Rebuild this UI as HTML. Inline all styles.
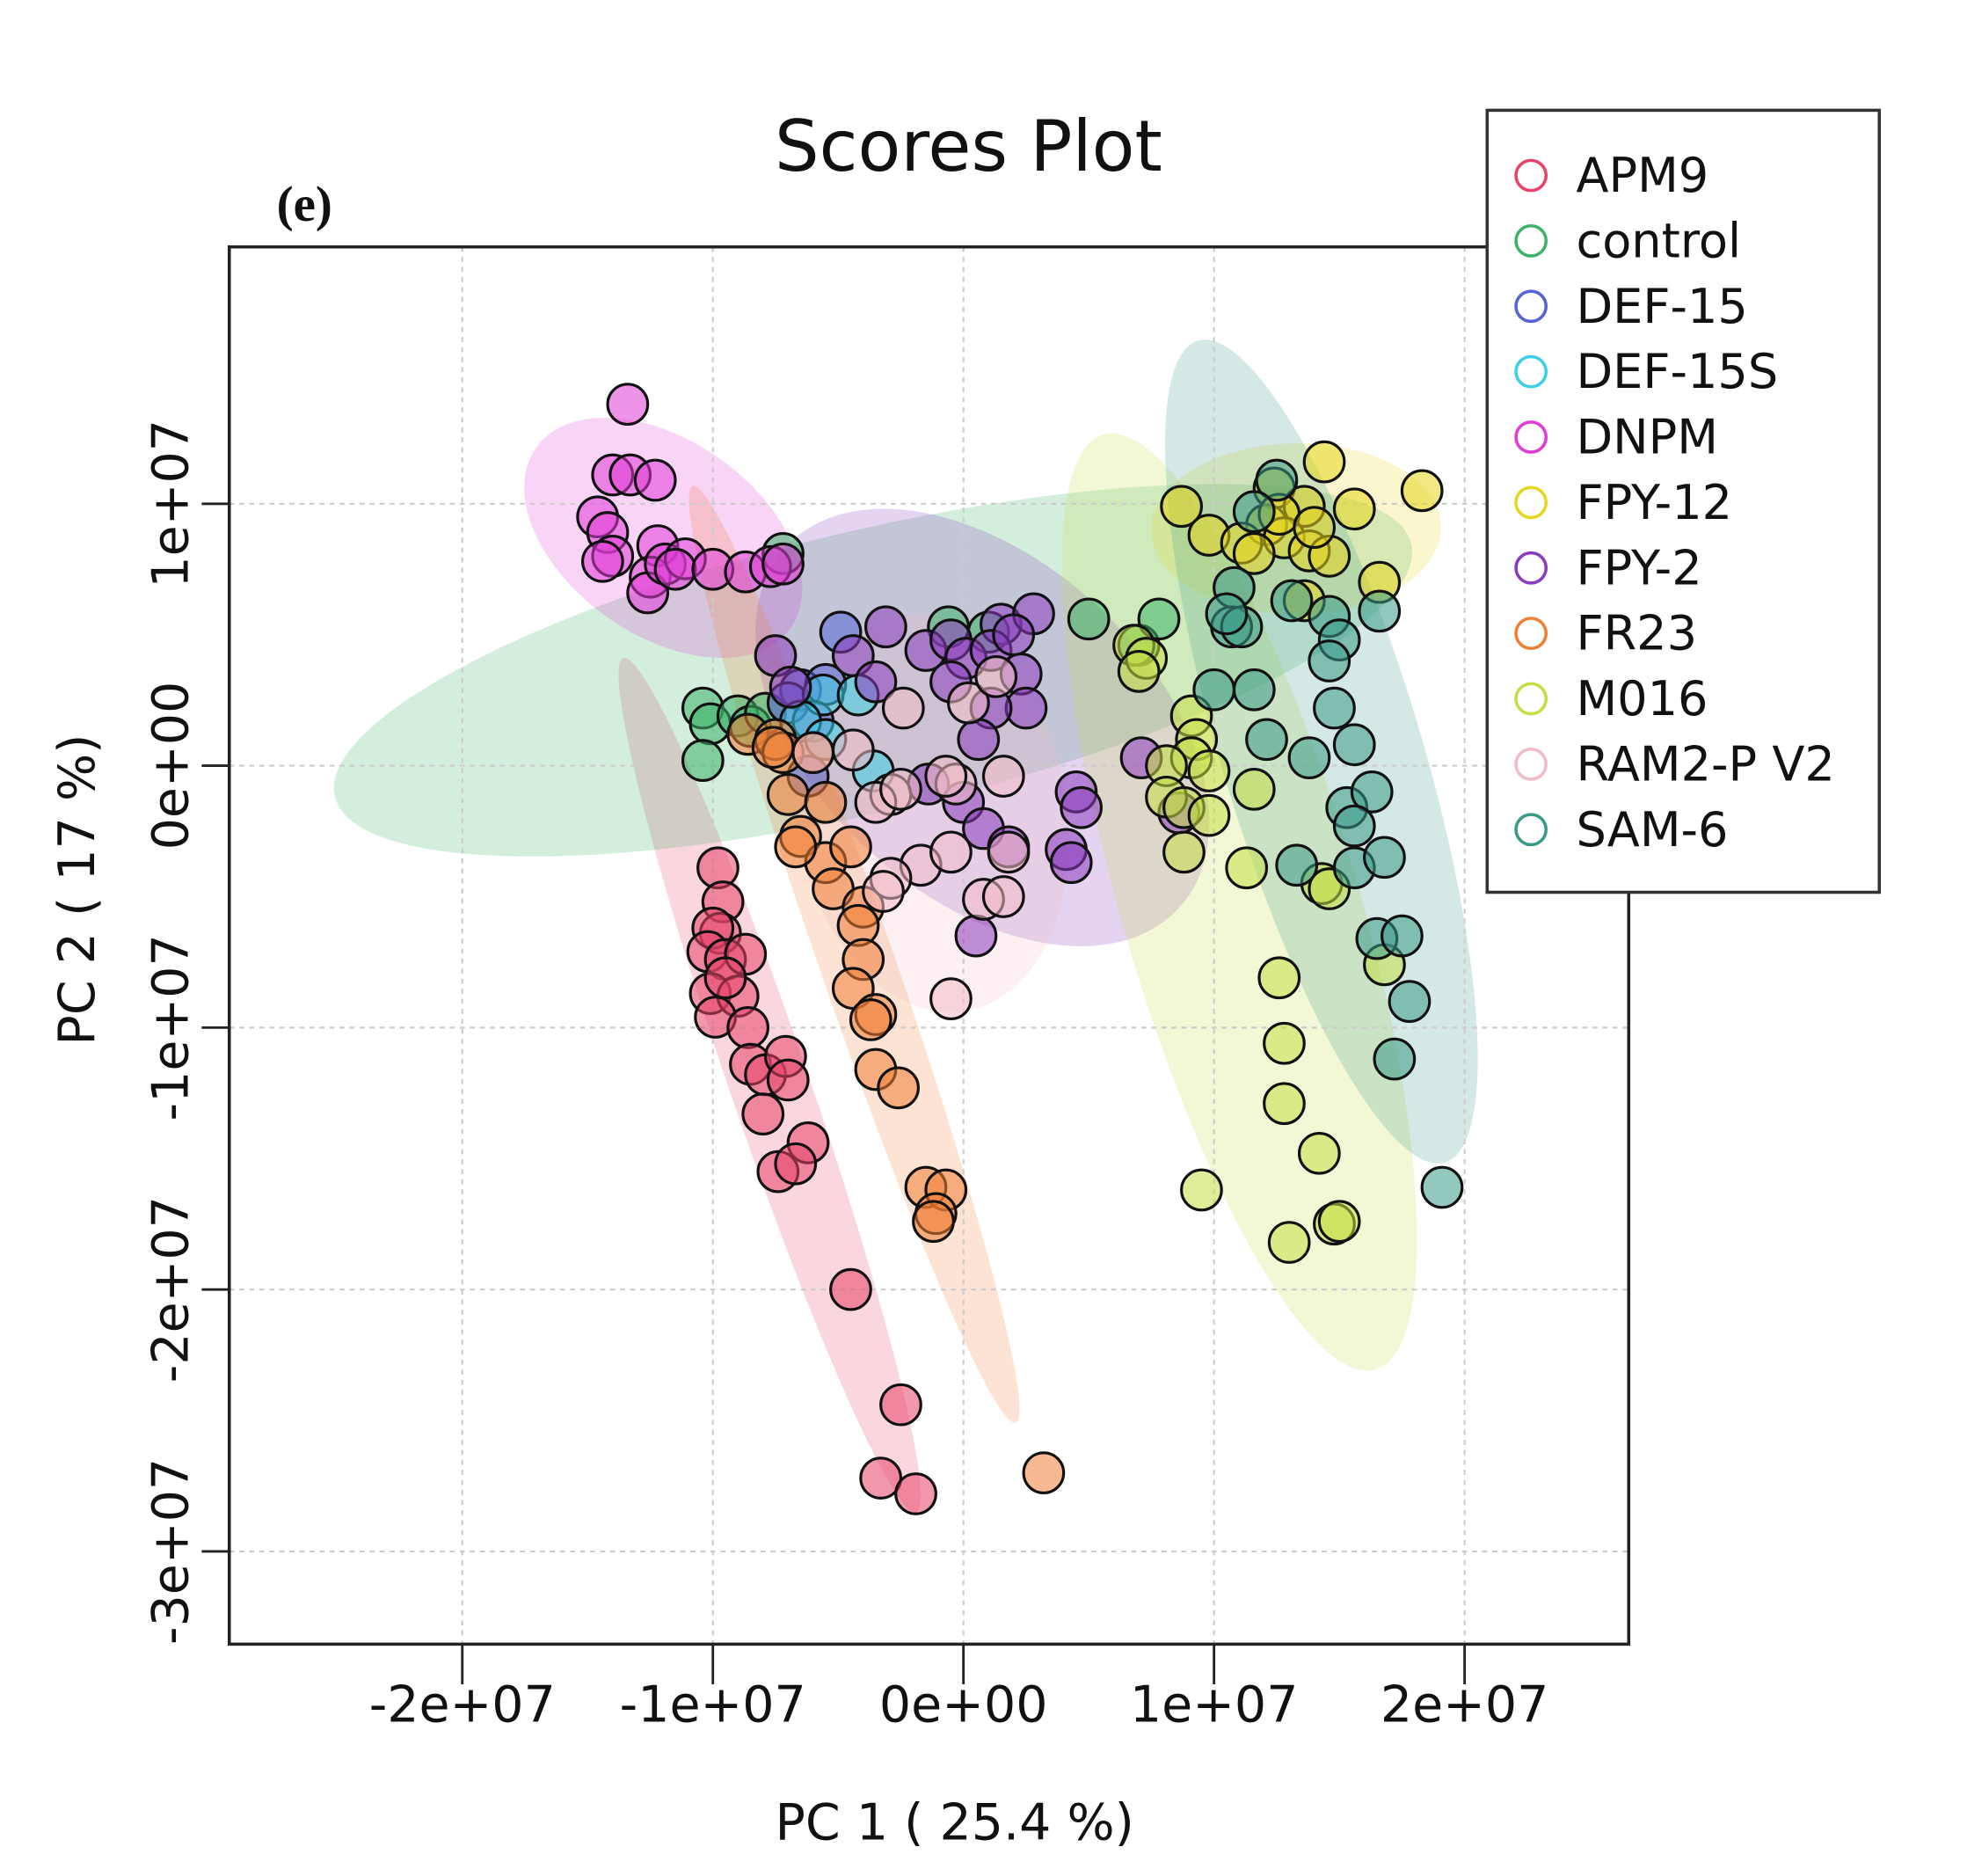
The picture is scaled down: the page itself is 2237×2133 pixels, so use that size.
<!DOCTYPE html>
<html><head><meta charset="utf-8"><style>html,body{margin:0;padding:0;background:#fff}svg{display:block}</style></head>
<body>
<svg id="chart" width="2237" height="2133" viewBox="0 0 1570 1497" xmlns="http://www.w3.org/2000/svg" font-family="'DejaVu Sans','Liberation Sans',sans-serif">
<rect width="1570" height="1497" fill="#fff"/>
<g id="ellipses"></g>
<g id="grid"></g>
<g id="points"></g>
<g id="axes"></g>
</svg>
<script>
const groupNames = ["APM9","control","DEF-15","DEF-15S","DNPM","FPY-12","FPY-2","FR23","M016","RAM2-P V2","SAM-6"];
const groupColors = ["#E8436A","#3CB36A","#5464D6","#3CCFE6","#E03CD6","#E6D61E","#8A3CBE","#F07F36","#C4DE46","#F2BCC6","#3A9A88"];
const xTicks = [-20,-10,0,10,20];
const yTicks = [10,0,-10,-20,-30];
const xTickLabels = ["-2e+07","-1e+07","0e+00","1e+07","2e+07"];
const yTickLabels = ["1e+07","0e+00","-1e+07","-2e+07","-3e+07"];
// values in units of 1e6
const apm9X = [-9.8,-9.6,-9.7,-10,-10.2,-9.5,-8.7,-10.1,-9,-9.9,-8.6,-8.5,-7.9,-7.1,-7,-8,-6.2,-7.4,-6.7,-4.5,-2.5,-3.3,-1.9,-9.5];
const apm9Y = [-3.9,-5.2,-6.4,-6.2,-7.1,-7.4,-7.2,-8.7,-8.8,-9.6,-10,-11.4,-11.8,-11.1,-12,-13.3,-14.4,-15.5,-15.2,-20,-24.4,-27.2,-27.8,-8.1];
const controlX = [-10.4,-10.1,-9,-10.4,-7.2,-0.6,1,5,7,7.8,-8.5,-7.9];
const controlY = [2.2,1.6,1.9,0.2,8.1,5.3,5.1,5.6,4.6,5.6,1.5,2];
const def15X = [-4.9,-6.5,-5.5,-7,-6,-6.2];
const def15Y = [5.1,2.9,3.1,2.4,1.7,-0.4];
const def15sX = [-5.6,-6.5,-5.5,-3.6,-4.2];
const def15sY = [2.7,1.7,1,-0.2,2.7];
const dnpmX = [-13.4,-14,-13.3,-12.3,-14.6,-14.2,-14,-14.4,-12.2,-12.5,-12.6,-11.9,-11.1,-11.5,-10,-8.7,-7.7,-7.2];
const dnpmY = [13.8,11.1,11.1,10.9,9.5,8.9,8,7.8,8.4,7.2,6.6,7.7,7.9,7.5,7.5,7.4,7.6,7.7];
const fpy12X = [14.4,12.4,13.6,15.6,12.1,12.8,13.8,14.6,18.3,8.7,9.8,11.1,12.6,14,16.6,13.6,11.6];
const fpy12Y = [11.6,10.6,9.9,9.8,9.2,8.7,8.2,8,10.5,9.9,8.8,8.5,9.6,9.1,7,6.3,8.1];
const fpy2X = [-7.5,-6.9,-3.1,-4.4,-1.5,-0.5,1.5,2.8,0.1,1.1,2,2.3,2.5,1.1,-0.5,0.6,-1.4,0,0.8,1.8,4.5,4.7,4.1,4.3,7.1,8.6,0.5,-3.5];
const fpy2Y = [4.2,3,5.3,4.2,4.4,4.8,5.4,5.8,4.1,4.4,5,3.5,2.2,2.2,3.2,1,-0.7,-1.4,-2.4,-3.1,-1,-1.6,-3.2,-3.7,0.3,-1.8,-6.5,3.2];
const fr23X = [-8.6,-7.5,-7.2,-7,-5.5,-6.5,-5.5,-4.5,-6.7,-5.2,-4,-4.2,-4,-4.4,-3.5,-3.7,-3.5,-2.6,-1.5,-0.7,-1.1,-1.2,3.2,-7.6,-6];
const fr23Y = [1.2,1,0.5,-1.1,-1.4,-2.7,-3.7,-3.1,-3.1,-4.7,-5.4,-6.1,-7.4,-8.5,-9.5,-9.7,-11.6,-12.3,-16.1,-16.2,-17.1,-17.4,-27,0.7,0.5];
const m016X = [6.8,7.3,7,9.1,9.3,9.1,9.8,8.1,8.1,8.8,9.8,11.6,11.3,8.8,14.3,14.6,12.6,16.8,12.8,12.8,14.2,9.5,13,14.8,15];
const m016Y = [4.6,4.1,3.6,1.9,1,0.3,-0.2,0,-1.2,-1.6,-1.9,-0.9,-3.9,-3.3,-4.5,-4.7,-8.1,-7.6,-10.6,-12.9,-14.8,-16.2,-18.2,-17.5,-17.4];
const ramX = [-2.4,0.2,1.3,-6,-4.4,-2.9,-3.5,-0.3,-0.7,1.6,-1.7,-0.5,1.8,-2.9,-3.2,0.8,1.6,-0.5,-2.5];
const ramY = [2.2,2.4,3.4,0.5,0.6,-1.1,-1.4,-0.7,-0.4,-0.4,-3.8,-3.3,-3.3,-4.3,-4.8,-5.1,-5,-8.9,-0.9];
const sam6X = [12.5,11.6,10.8,10.7,11.1,13.1,14.6,15,16.6,14.6,10,11.6,14.8,12.1,13.8,15.6,15.3,16.3,15.6,13.3,15.6,16.8,16.5,17.5,17.8,17.2,19.1,10.5];
const sam6Y = [10.9,9.7,6.8,5.3,5.3,6.3,5.7,4.8,5.9,4,2.9,2.9,2.2,1,0.3,0.8,-1.6,-1,-2.3,-3.8,-3.9,-3.5,-6.6,-6.5,-9,-11.2,-16.1,5.8];
const seriesX = [apm9X,controlX,def15X,def15sX,dnpmX,fpy12X,fpy2X,fr23X,m016X,ramX,sam6X];
const seriesY = [apm9Y,controlY,def15Y,def15sY,dnpmY,fpy12Y,fpy2Y,fr23Y,m016Y,ramY,sam6Y];

const NS="http://www.w3.org/2000/svg";
const L=183,T=197,R=1300,B=1312;
const sx=v=>769+v*20;
const sy=v=>611-v*20.9;
function mk(tag,attrs,parent,text){const e=document.createElementNS(NS,tag);for(const k in attrs)e.setAttribute(k,attrs[k]);if(text!==undefined)e.textContent=text;parent.appendChild(e);return e;}
const gE=document.getElementById('ellipses'),gG=document.getElementById('grid'),gP=document.getElementById('points'),gA=document.getElementById('axes');
const svg=document.getElementById('chart');
const clip=mk('clipPath',{id:'pc'},svg);mk('rect',{x:L,y:T,width:R-L,height:B-T},clip);
gE.setAttribute('clip-path','url(#pc)');

seriesX.forEach((xs,i)=>{
  const ys=seriesY[i];const n=xs.length;if(n<8)return;
  const px=xs.map(sx),py=ys.map(sy);
  const mx=px.reduce((a,b)=>a+b)/n,my=py.reduce((a,b)=>a+b)/n;
  let a=0,b=0,c=0;for(let k=0;k<n;k++){const dx=px[k]-mx,dy=py[k]-my;a+=dx*dx;b+=dx*dy;c+=dy*dy;}
  a/=n-1;b/=n-1;c/=n-1;
  const tr=(a+c)/2,det=Math.sqrt(((a-c)/2)**2+b*b);
  const l1=tr+det,l2=Math.max(tr-det,1);
  const ang=Math.atan2(l1-a,b)*180/Math.PI;
  const s=n<15?3.0:2.45;
  const e=mk('ellipse',{cx:mx,cy:my,rx:s*Math.sqrt(l1),ry:s*Math.sqrt(l2),transform:`rotate(${isNaN(ang)?0:ang} ${mx} ${my})`,fill:groupColors[i],'fill-opacity':0.22},gE);
  
  
});

xTicks.forEach(t=>{const l=mk('line',{x1:sx(t),x2:sx(t),y1:T,y2:B,stroke:'#ccc','stroke-dasharray':'4 4','stroke-width':1.5},gG);
  
  });
yTicks.forEach(t=>{const l=mk('line',{x1:L,x2:R,y1:sy(t),y2:sy(t),stroke:'#ccc','stroke-dasharray':'4 4','stroke-width':1.5},gG);
  
  });

seriesX.forEach((xs,i)=>{xs.forEach((x,k)=>{
  const c=mk('circle',{cx:sx(x),cy:sy(seriesY[i][k]),r:16,fill:groupColors[i],'fill-opacity':0.55,stroke:'#111','stroke-width':2.2},gP);
  
  
});});

let r=mk('rect',{x:L,y:T,width:R-L,height:B-T,fill:'none',stroke:'#222','stroke-width':2.5},gA);


xTicks.forEach((t,i)=>{mk('line',{x1:sx(t),x2:sx(t),y1:B,y2:B+32,stroke:'#222','stroke-width':2},gA);
  const tx=mk('text',{x:sx(t),y:B+62,'text-anchor':'middle','font-size':40,fill:'#111'},gA,xTickLabels[i]);
  
  });
yTicks.forEach((t,i)=>{mk('line',{x1:L,x2:L-22,y1:sy(t),y2:sy(t),stroke:'#222','stroke-width':2},gA);
  const tx=mk('text',{x:0,y:0,transform:`translate(150 ${sy(t)}) rotate(-90)`,'text-anchor':'middle','font-size':40,fill:'#111'},gA,yTickLabels[i]);
  
  });
let t1=mk('text',{x:762,y:1468,'text-anchor':'middle','font-size':40,fill:'#111'},gA,'PC 1 ( 25.4 %)');


let t2=mk('text',{x:0,y:0,transform:'translate(75 710) rotate(-90)','text-anchor':'middle','font-size':40,fill:'#111'},gA,'PC 2 ( 17 %)');


let t3=mk('text',{x:773,y:136,'text-anchor':'middle','font-size':56,fill:'#111'},gA,'Scores Plot');


let t4=mk('text',{x:243,y:176,'text-anchor':'middle','font-size':40,'font-weight':'bold','font-family':"'Liberation Serif',serif",fill:'#111'},gA,'(e)');



const lg=mk('g',{},gA);


mk('rect',{x:1187,y:88,width:313,height:624,fill:'#fff',stroke:'#333','stroke-width':2.5},lg);
groupNames.forEach((n,i)=>{const y=140+i*52.2;
  const g=mk('g',{},lg);
  
  
  mk('circle',{cx:1222,cy:y,r:12,fill:'none',stroke:groupColors[i],'stroke-width':2.5},g);
  mk('text',{x:1258,y:y+13,'font-size':38,fill:'#111'},g,n);});
</script>
</body></html>
